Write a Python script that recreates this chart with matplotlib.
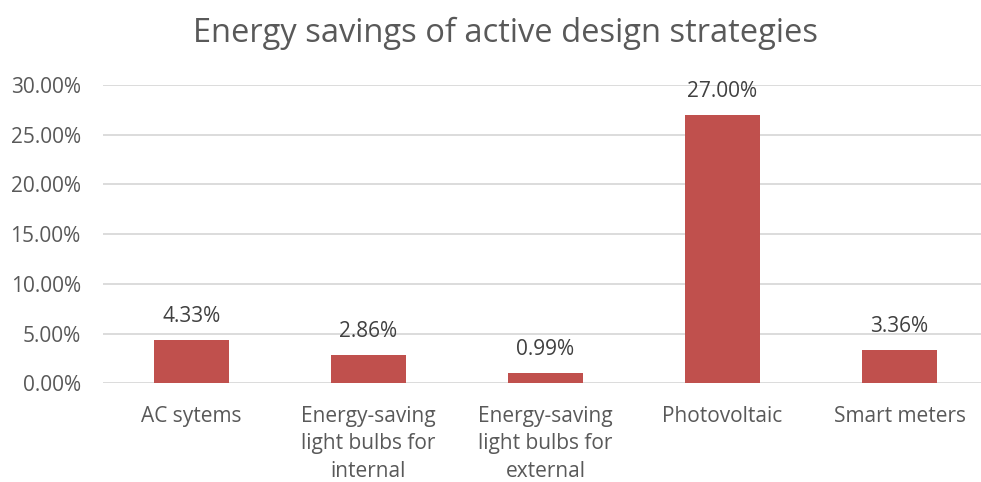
# coding=utf-8
"""
Energy savings of active design strategies
"""

import matplotlib
matplotlib.use('Agg')
import matplotlib.pyplot as plt
from matplotlib.ticker import PercentFormatter

# Datos
categorias = ['AC sytems',
              'Energy-saving\nlight bulbs for\ninternal',
              'Energy-saving\nlight bulbs for\nexternal',
              'Photovoltaic',
              'Smart meters']
ahorros = [0.0433, 0.0286, 0.0099, 0.27, 0.0336]
etiquetas = ['4.33%', '2.86%', '0.99%', '27.00%', '3.36%']
ticks_y = [0.0, 0.05, 0.10, 0.15, 0.20, 0.25, 0.30]

COLOR_BARRA = '#C0504D'
COLOR_TEXTO = '#595959'
COLOR_GRILLA = '#D9D9D9'

plt.rcParams['font.family'] = ['Open Sans', 'DejaVu Sans']

fig = plt.figure(figsize=(9.81, 4.82), dpi=100)
ax = fig.add_axes([0.105, 0.2048, 0.895, 0.619])

x = list(range(len(categorias)))
ax.bar(x, ahorros, width=0.42, color=COLOR_BARRA, zorder=3)

# Etiquetas de datos
for xi, v, t in zip(x, ahorros, etiquetas):
    ax.annotate(t, (xi, v), xytext=(0, 13), textcoords='offset points',
                ha='center', va='baseline', fontsize=15, color='#404040')

ax.set_xlim(-0.5, 4.46)
ax.set_ylim(0, 0.30)
ax.set_yticks(ticks_y)
ax.yaxis.set_major_formatter(PercentFormatter(xmax=1, decimals=2))
ax.set_xticks(x)
ax.set_xticklabels(categorias, linespacing=1.42)

ax.grid(axis='y', color=COLOR_GRILLA, linewidth=1.3, zorder=0)
for s in ax.spines.values():
    s.set_visible(False)
ax.tick_params(axis='both', length=0, labelsize=15, colors=COLOR_TEXTO)
ax.tick_params(axis='y', pad=16)
ax.tick_params(axis='x', pad=16)

fig.text(0.515, 0.93, 'Energy savings of active design strategies',
         ha='center', va='center', fontsize=23.5, color=COLOR_TEXTO)

fig.savefig('out.png', dpi=100)
